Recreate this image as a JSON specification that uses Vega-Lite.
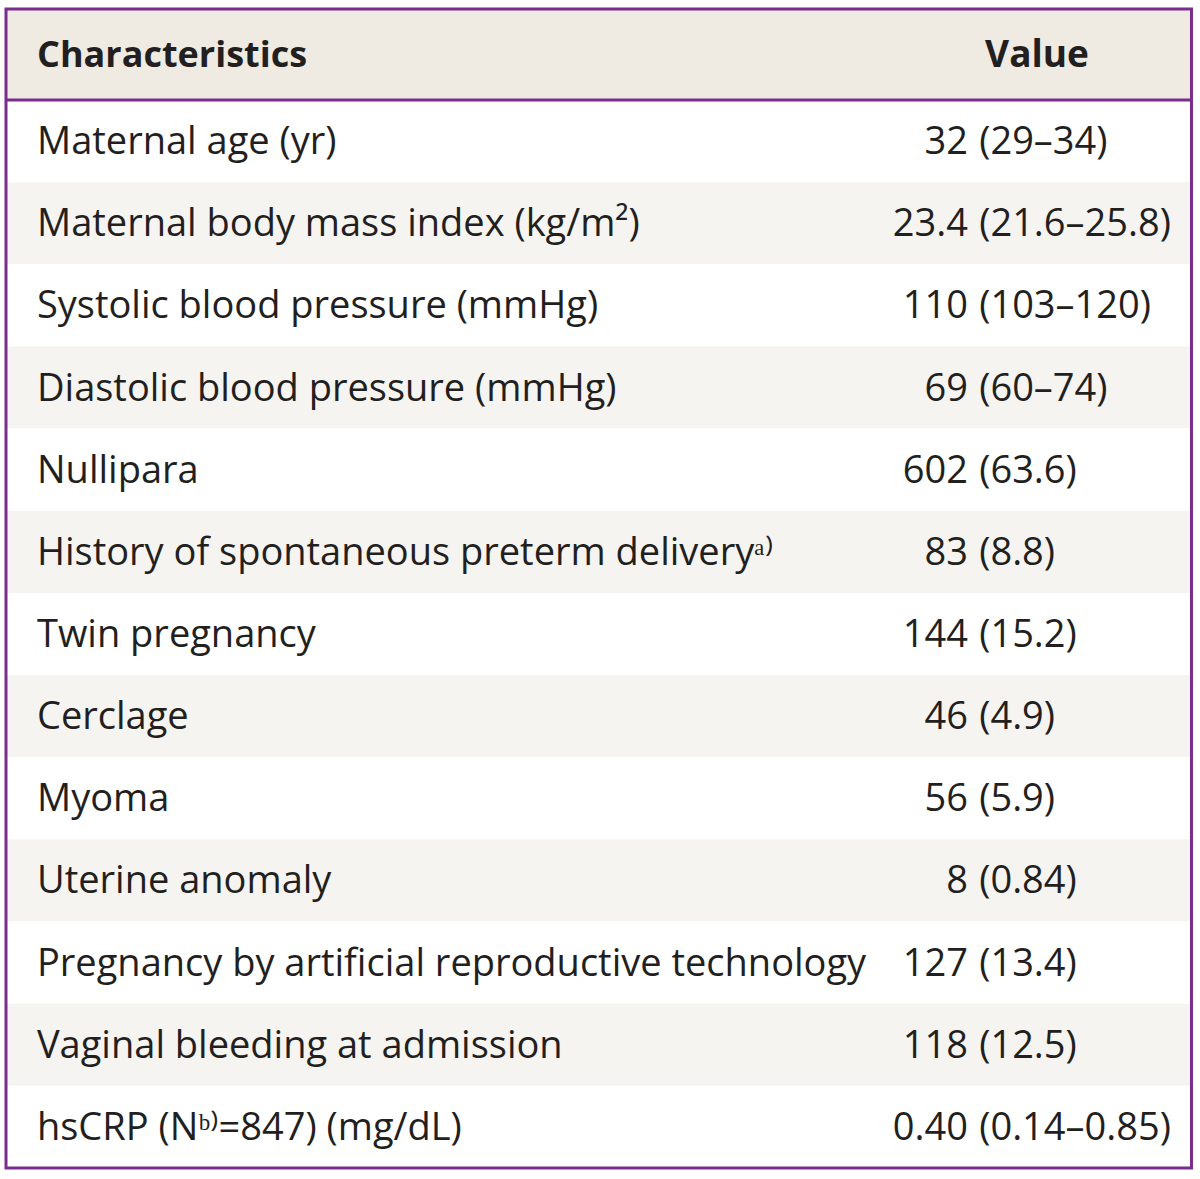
{
  "$schema": "https://vega.github.io/schema/vega-lite/v6.json",
  "width": 1200,
  "height": 1179,
  "autosize": {"type": "fit", "contains": "padding"},
  "padding": 0,
  "background": "white",
  "config": {"view": {"stroke": null}},
  "datasets": {
    "rows": [
      {"row": 1, "label": "Maternal age (yr)", "main": "32", "paren": "(29–34)"},
      {"row": 2, "label": "Maternal body mass index (kg/m²)", "main": "23.4", "paren": "(21.6–25.8)"},
      {"row": 3, "label": "Systolic blood pressure (mmHg)", "main": "110", "paren": "(103–120)"},
      {"row": 4, "label": "Diastolic blood pressure (mmHg)", "main": "69", "paren": "(60–74)"},
      {"row": 5, "label": "Nullipara", "main": "602", "paren": "(63.6)"},
      {"row": 6, "label": "History of spontaneous preterm deliveryᵃ⁾", "main": "83", "paren": "(8.8)"},
      {"row": 7, "label": "Twin pregnancy", "main": "144", "paren": "(15.2)"},
      {"row": 8, "label": "Cerclage", "main": "46", "paren": "(4.9)"},
      {"row": 9, "label": "Myoma", "main": "56", "paren": "(5.9)"},
      {"row": 10, "label": "Uterine anomaly", "main": "8", "paren": "(0.84)"},
      {"row": 11, "label": "Pregnancy by artificial reproductive technology", "main": "127", "paren": "(13.4)"},
      {"row": 12, "label": "Vaginal bleeding at admission", "main": "118", "paren": "(12.5)"},
      {"row": 13, "label": "hsCRP (Nᵇ⁾=847) (mg/dL)", "main": "0.40", "paren": "(0.14–0.85)"}
    ]
  },
  "data": {"name": "rows"},
  "layer": [
    {
      "mark": {"type": "rect"},
      "transform": [{"calculate": "datum.row - 1", "as": "top"}],
      "encoding": {
        "x": {"datum": 0.5, "type": "quantitative", "scale": {"domain": [0, 100], "nice": false, "zero": false}, "axis": null},
        "x2": {"datum": 99.29},
        "y": {"field": "top", "type": "quantitative", "scale": {"domain": [-1.2173, 13.1345], "nice": false, "zero": false, "reverse": true}, "axis": null},
        "y2": {"field": "row"},
        "color": {"condition": {"test": "datum.row % 2 === 0", "value": "#f6f4f0"}, "value": "#ffffff"}
      }
    },
    {
      "data": {"values": [{"h": "header"}]},
      "mark": {"type": "rect", "color": "#efebe3"},
      "encoding": {
        "x": {"datum": 0.5, "type": "quantitative"},
        "x2": {"datum": 99.29},
        "y": {"datum": -1.108, "type": "quantitative"},
        "y2": {"datum": 0}
      }
    },
    {
      "mark": {"type": "text", "align": "left", "baseline": "middle", "dy": 2, "font": "Open Sans", "fontSize": 38, "color": "#231f20"},
      "transform": [{"calculate": "datum.row - 0.5", "as": "mid"}],
      "encoding": {
        "x": {"datum": 3.08, "type": "quantitative"},
        "y": {"field": "mid", "type": "quantitative"},
        "text": {"field": "label"}
      }
    },
    {
      "mark": {"type": "text", "align": "right", "baseline": "middle", "dy": 2, "font": "Open Sans", "fontSize": 38, "color": "#231f20"},
      "transform": [{"calculate": "datum.row - 0.5", "as": "mid"}],
      "encoding": {
        "x": {"datum": 80.67, "type": "quantitative"},
        "y": {"field": "mid", "type": "quantitative"},
        "text": {"field": "main"}
      }
    },
    {
      "mark": {"type": "text", "align": "left", "baseline": "middle", "dy": 2, "font": "Open Sans", "fontSize": 38, "color": "#231f20"},
      "transform": [{"calculate": "datum.row - 0.5", "as": "mid"}],
      "encoding": {
        "x": {"datum": 81.6, "type": "quantitative"},
        "y": {"field": "mid", "type": "quantitative"},
        "text": {"field": "paren"}
      }
    },
    {
      "data": {"values": [{"t": "Characteristics", "px": 3.08}]},
      "mark": {"type": "text", "align": "left", "baseline": "middle", "dy": 2, "font": "Open Sans", "fontSize": 36, "fontWeight": "bold", "color": "#231f20"},
      "encoding": {
        "x": {"field": "px", "type": "quantitative"},
        "y": {"datum": -0.56, "type": "quantitative"},
        "text": {"field": "t"}
      }
    },
    {
      "data": {"values": [{"t": "Value", "px": 86.42}]},
      "mark": {"type": "text", "align": "center", "baseline": "middle", "dy": 2, "font": "Open Sans", "fontSize": 37, "fontWeight": "bold", "color": "#231f20"},
      "encoding": {
        "x": {"field": "px", "type": "quantitative"},
        "y": {"datum": -0.56, "type": "quantitative"},
        "text": {"field": "t"}
      }
    },
    {
      "data": {"values": [{"h": "line"}]},
      "mark": {"type": "rule", "color": "#7b2d8e", "strokeWidth": 3},
      "encoding": {
        "x": {"datum": 0.5, "type": "quantitative"},
        "x2": {"datum": 99.29},
        "y": {"datum": 0, "type": "quantitative"}
      }
    },
    {
      "data": {"values": [{"h": "border"}]},
      "mark": {"type": "rect", "fill": null, "fillOpacity": 0, "stroke": "#7b2d8e", "strokeWidth": 3},
      "encoding": {
        "x": {"datum": 0.5, "type": "quantitative"},
        "x2": {"datum": 99.29},
        "y": {"datum": -1.108, "type": "quantitative"},
        "y2": {"datum": 13.0}
      }
    }
  ]
}
